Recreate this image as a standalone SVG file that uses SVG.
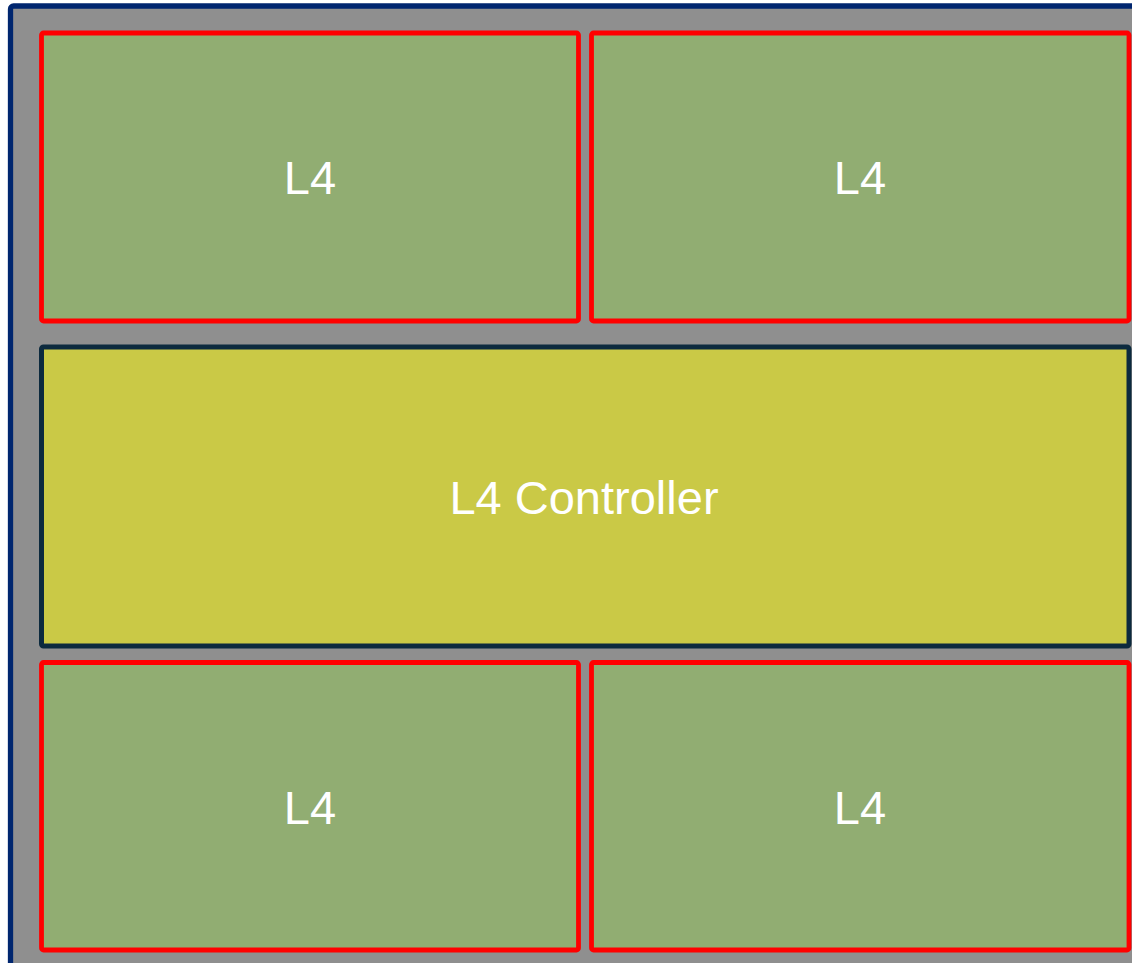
<svg xmlns="http://www.w3.org/2000/svg" width="1132" height="963" viewBox="0 0 1132 963">
<style>
.l4 { fill: #91ad72; stroke: #ff0000; stroke-width: 4.8; }
.ctrl { fill: #cac946; stroke: #0c2a3e; stroke-width: 5; }
.lbl { font-family: "Liberation Sans", Arial, sans-serif; font-size: 47px; fill: #ffffff; text-anchor: middle; }
</style>
<rect width="1132" height="963" fill="#ffffff"/>
<g id="frame">
<rect x="10.5" y="6" width="1140" height="980" rx="3" fill="#8f8f8f" stroke="#00266f" stroke-width="5.3"/>
</g>
<g id="connectors"></g>
<g id="l4-top-left">
<rect class="l4" x="41.5" y="33" width="537" height="288" rx="2"/>
<text class="lbl" x="310" y="194">L4</text>
</g>
<g id="l4-top-right">
<rect class="l4" x="591.5" y="33" width="537.5" height="288" rx="2"/>
<text class="lbl" x="860" y="194">L4</text>
</g>
<g id="l4-controller">
<rect class="ctrl" x="41.5" y="347" width="1087.5" height="299" rx="2"/>
<text class="lbl" x="584" y="514">L4 Controller</text>
</g>
<g id="l4-bottom-left">
<rect class="l4" x="41.5" y="662.5" width="537" height="287.5" rx="2"/>
<text class="lbl" x="310" y="824">L4</text>
</g>
<g id="l4-bottom-right">
<rect class="l4" x="591.5" y="662.5" width="537.5" height="287.5" rx="2"/>
<text class="lbl" x="860" y="824">L4</text>
</g>
</svg>
